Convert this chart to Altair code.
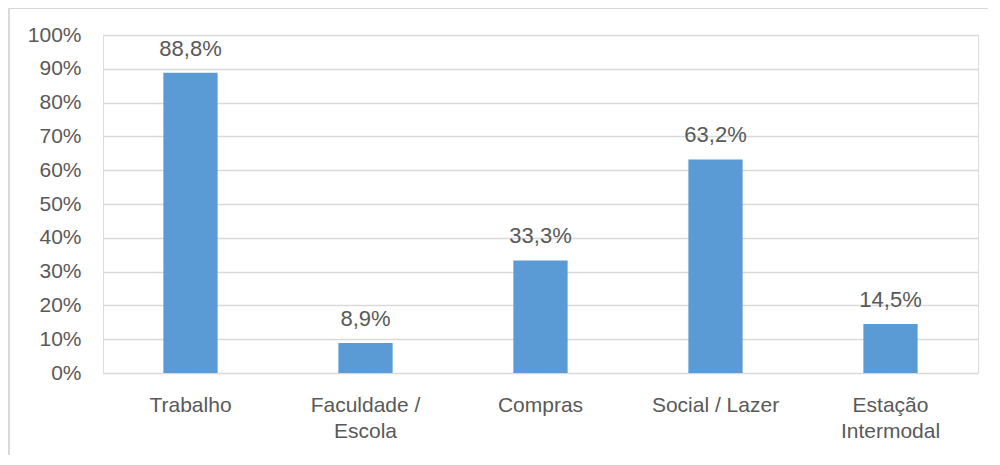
import altair as alt
import pandas as pd

categories = ["Trabalho", "Faculdade /|Escola", "Compras", "Social / Lazer", "Estação|Intermodal"]
values = [0.888, 0.089, 0.333, 0.632, 0.145]
value_labels = ["88,8%", "8,9%", "33,3%", "63,2%", "14,5%"]
y_ticks = [0, 0.1, 0.2, 0.3, 0.4, 0.5, 0.6, 0.7, 0.8, 0.9, 1.0]

df = pd.DataFrame({"cat": categories, "val": values, "lbl": value_labels})

FONT = "Liberation Sans"
TXT = "#595959"

x = alt.X("cat:N", sort=categories, title=None,
          scale=alt.Scale(paddingInner=0.69, paddingOuter=0.345),
          axis=alt.Axis(labelExpr="split(datum.label, '|')", labelAngle=0,
                        labelFont=FONT, labelFontSize=21, labelColor=TXT,
                        labelPadding=21, labelLineHeight=26,
                        domain=False, ticks=False, grid=False))
y = alt.Y("val:Q", title=None,
          scale=alt.Scale(domain=[0, 1], nice=False),
          axis=alt.Axis(format=".0%", values=y_ticks, labelOverlap=False,
                        tickCount=11,
                        labelFont=FONT, labelFontSize=21, labelColor=TXT,
                        labelPadding=22, domain=False, ticks=False,
                        gridColor="#d9d9d9", gridWidth=1.5))

bars = alt.Chart(df).mark_bar(color="#5b9bd5").encode(x=x, y=y)
labels = alt.Chart(df).mark_text(font=FONT, fontSize=22, color=TXT,
                                 baseline="alphabetic", dy=-17).encode(
    x=x, y=y, text="lbl:N")

border_top = alt.Chart(df).mark_rule(color="#d9d9d9", strokeWidth=2).encode(
    x=alt.value(-94), x2=alt.value(885), y=alt.value(-27))
border_left = alt.Chart(df).mark_rule(color="#d9d9d9", strokeWidth=2).encode(
    x=alt.value(-94), y=alt.value(-27), y2=alt.value(440))

chart = alt.layer(bars, labels, border_top, border_left).properties(
    width=875, height=338,
    autosize=alt.AutoSizeParams(type="none"),
    padding={"left": 95, "top": 27, "right": 14, "bottom": 82},
).configure_view(stroke=None).configure(background="white")

chart.save("out.html", embed_options={"renderer": "svg", "actions": False})
